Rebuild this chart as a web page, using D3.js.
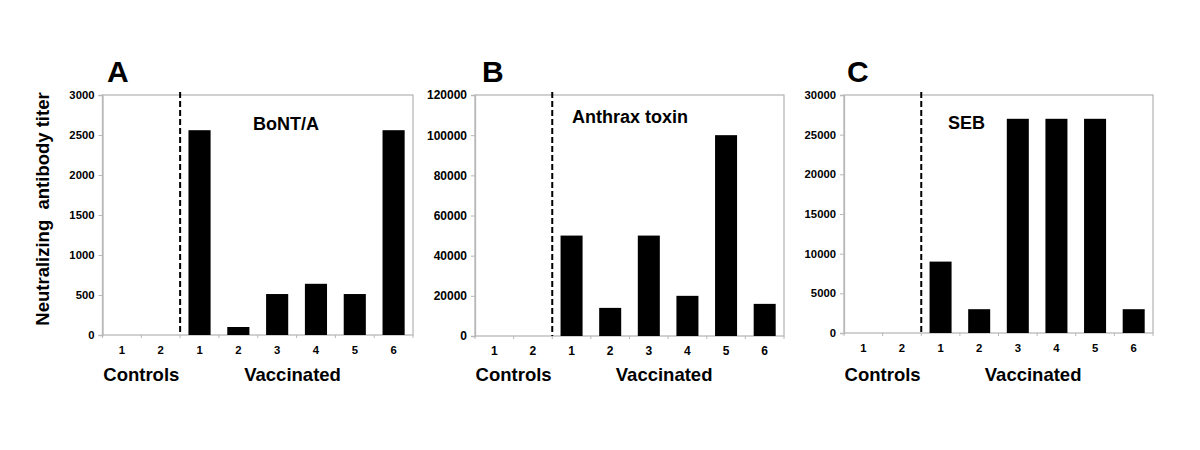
<!DOCTYPE html>
<html><head><meta charset="utf-8">
<script src="https://cdn.jsdelivr.net/npm/d3@7/dist/d3.min.js"></script>
<style>body{margin:0;background:#fff}svg{display:block}text{font-family:"Liberation Sans",Arial,sans-serif;font-weight:bold;fill:#000}</style>
</head><body><svg id="c" width="1200" height="450"></svg>
<script>
const categories = ["1","2","1","2","3","4","5","6"];
const bontA = [0,0,2560,100,512,640,512,2560];
const anthrax = [0,0,50000,14000,50000,20000,100000,16000];
const seb = [0,0,9000,3000,27000,27000,27000,3000];
const ticksA = [0,500,1000,1500,2000,2500,3000];
const ticksB = [0,20000,40000,60000,80000,100000,120000];
const ticksC = [0,5000,10000,15000,20000,25000,30000];
const groupLabels = ["Controls","Vaccinated"];

const panels = [
  {letter:"A", title:"BoNT/A", values:bontA, ticks:ticksA, x0:102.5, x1:413, y0:95, y1:335, fs:11.3, letterX:107, titleX:253, titleY:130},
  {letter:"B", title:"Anthrax toxin", values:anthrax, ticks:ticksB, x0:475, x1:784, y0:95, y1:336, fs:12, letterX:482, titleX:572, titleY:123},
  {letter:"C", title:"SEB", values:seb, ticks:ticksC, x0:844, x1:1153, y0:95, y1:333, fs:11.3, letterX:847, titleX:948, titleY:129}
];

const svg = d3.select("#c");
const grey = "#b8b8b8";

panels.forEach(p => {
  const g = svg.append("g");
  const x = d3.scaleBand().domain(d3.range(categories.length)).range([p.x0, p.x1]).paddingInner(0.43).paddingOuter(0.215);
  const y = d3.scaleLinear().domain([0, d3.max(p.ticks)]).range([p.y1, p.y0]);
  g.append("rect").attr("x", p.x0).attr("y", p.y0).attr("width", p.x1 - p.x0).attr("height", p.y1 - p.y0)
    .attr("fill", "none").attr("stroke", grey).attr("stroke-width", 1.3);
  const ya = g.append("g").attr("transform", `translate(${p.x0},0)`)
    .call(d3.axisLeft(y).tickValues(p.ticks).tickSize(4).tickPadding(4).tickFormat(d3.format("d")));
  ya.select(".domain").attr("stroke", grey).attr("stroke-width", 1.3);
  ya.selectAll(".tick line").attr("stroke", grey);
  ya.selectAll("text").style("font-size", p.fs + "px").style("font-family", "'Liberation Sans',Arial,sans-serif").style("font-weight", "bold").attr("fill", "#000");
  const step = x.step();
  const bounds = d3.range(categories.length + 1).map(i => p.x0 + i * step);
  g.selectAll(".bt").data(bounds).enter().append("line")
    .attr("x1", d => d).attr("x2", d => d).attr("y1", p.y1).attr("y2", p.y1 + 3)
    .attr("stroke", grey).attr("stroke-width", 1);
  g.selectAll(".cl").data(categories).enter().append("text")
    .attr("x", (d, i) => x(i) + x.bandwidth() / 2).attr("y", p.y1 + 19)
    .attr("text-anchor", "middle").style("font-size", p.fs + "px").text(d => d);
  g.selectAll(".bar").data(p.values).enter().append("rect")
    .attr("x", (d, i) => x(i)).attr("width", x.bandwidth())
    .attr("y", d => y(d)).attr("height", d => y(0) - y(d))
    .attr("fill", "#000");
  const dx = p.x0 + 2 * step;
  g.append("line").attr("x1", dx).attr("x2", dx).attr("y1", p.y0 - 3).attr("y2", p.y1)
    .attr("stroke", "#000").attr("stroke-width", 2).attr("stroke-dasharray", "6,3");
  g.append("text").attr("x", p.x0 + step).attr("y", 381).attr("text-anchor", "middle")
    .style("font-size", "18.5px").text(groupLabels[0]);
  g.append("text").attr("x", p.x0 + 5 * step - 4).attr("y", 381).attr("text-anchor", "middle")
    .style("font-size", "18.5px").text(groupLabels[1]);
  g.append("text").attr("x", p.letterX).attr("y", 82).style("font-size", "30px").text(p.letter);
  g.append("text").attr("x", p.titleX).attr("y", p.titleY).style("font-size", "18px").text(p.title);
});

svg.append("text").attr("transform", "translate(49,209) rotate(-90)").attr("text-anchor", "middle")
  .style("font-size", "18.5px").style("white-space", "pre").attr("xml:space", "preserve")
  .text("Neutralizing  antibody titer");
</script></body></html>
